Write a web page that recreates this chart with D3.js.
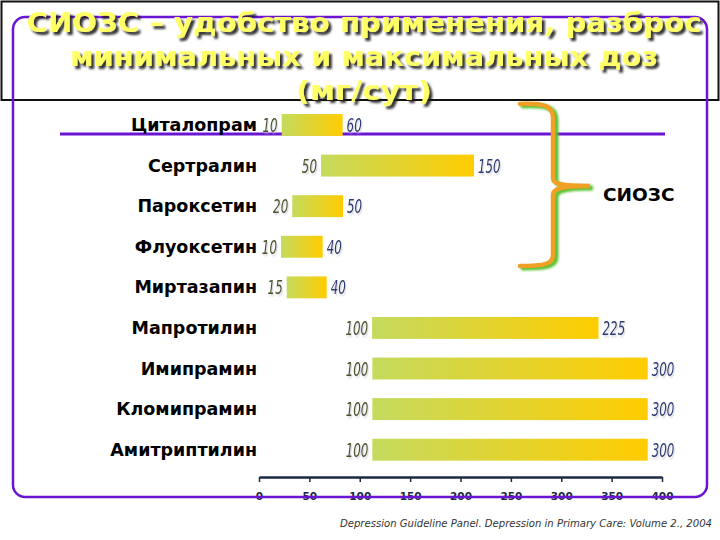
<!DOCTYPE html>
<html>
<head>
<meta charset="utf-8">
<script src="https://cdn.jsdelivr.net/npm/d3@7/dist/d3.min.js"></script>
<style>
  html, body { margin: 0; padding: 0; background: #ffffff; }
  svg { display: block; }
</style>
</head>
<body>
<svg id="chart" width="720" height="540"></svg>
<script>
// ---- data ----
const titleLines = ["СИОЗС – удобство применения, разброс", "минимальных и максимальных доз", "(мг/сут)"];
const categories = ["Циталопрам", "Сертралин", "Пароксетин", "Флуоксетин", "Миртазапин",
                    "Мапротилин", "Имипрамин", "Кломипрамин", "Амитриптилин"];
const minDose = [10, 50, 20, 10, 15, 100, 100, 100, 100];
const maxDose = [60, 150, 50, 40, 40, 225, 300, 300, 300];
// bar extents as drawn against the axis
const barStart = [22.5, 61.5, 33, 21.8, 27.5, 112.3, 112.5, 112.5, 112.5];
const barEnd   = [83, 213.4, 83.4, 63.2, 67.2, 337, 385.8, 385.8, 385.8];
const xTicks = [0, 50, 100, 150, 200, 250, 300, 350, 400];
const groupLabel = "СИОЗС";
const citation = "Depression Guideline Panel. Depression in Primary Care: Volume 2., 2004";

const svg = d3.select("#chart");
const defs = svg.append("defs");

const grad = defs.append("linearGradient").attr("id", "barGrad")
  .attr("x1", "0%").attr("x2", "100%").attr("y1", "0%").attr("y2", "0%");
grad.append("stop").attr("offset", "0%").attr("stop-color", "#c5da5e");
grad.append("stop").attr("offset", "100%").attr("stop-color", "#ffcc00");

const tshadow = defs.append("filter").attr("id", "titleShadow")
  .attr("x", "-10%").attr("y", "-30%").attr("width", "120%").attr("height", "160%");
tshadow.append("feDropShadow").attr("dx", 3).attr("dy", 3).attr("stdDeviation", 1.3)
  .attr("flood-color", "#1a1a1a").attr("flood-opacity", 0.9);

const lshadow = defs.append("filter").attr("id", "labShadow")
  .attr("x", "-20%").attr("y", "-20%").attr("width", "140%").attr("height", "140%");
lshadow.append("feDropShadow").attr("dx", 1.5).attr("dy", 1.5).attr("stdDeviation", 1)
  .attr("flood-color", "#b8b8c8").attr("flood-opacity", 0.6);

const bshadow = defs.append("filter").attr("id", "braceShadow")
  .attr("x", "-30%").attr("y", "-10%").attr("width", "160%").attr("height", "120%");
bshadow.append("feGaussianBlur").attr("stdDeviation", 0.8);

// ---- scales ----
const x = d3.scaleLinear().domain([0, 400]).range([259, 662]);
const y = d3.scaleBand().domain(categories).range([104.7, 470]).paddingInner(0.46).paddingOuter(0.23);

// ---- frames ----
svg.append("rect").attr("x", 1.5).attr("y", 1.5).attr("width", 717).attr("height", 98.5)
  .attr("fill", "none").attr("stroke", "#111").attr("stroke-width", 2);

svg.append("line").attr("x1", 60).attr("x2", 665).attr("y1", 134).attr("y2", 134)
  .attr("stroke", "#6a14d4").attr("stroke-width", 3);

// ---- bars ----
const rows = categories.map((c, i) => ({ c, i }));
svg.append("g").selectAll("rect").data(rows).join("rect")
  .attr("x", d => x(barStart[d.i]))
  .attr("width", d => x(barEnd[d.i]) - x(barStart[d.i]))
  .attr("y", d => y(d.c))
  .attr("height", y.bandwidth())
  .attr("fill", "url(#barGrad)");

// category labels
svg.append("g").selectAll("text").data(rows).join("text")
  .attr("x", 257)
  .attr("y", d => y(d.c) + y.bandwidth() / 2 + 6)
  .attr("text-anchor", "end")
  .attr("font-family", "'DejaVu Sans', Verdana, sans-serif")
  .attr("font-weight", "bold")
  .attr("font-size", 17.5)
  .attr("fill", "#000")
  .text(d => d.c);

// value labels (condensed italic digits)
const valFont = "'DejaVu Sans', sans-serif";
svg.append("g").selectAll("text").data(rows).join("text")
  .attr("transform", d => `translate(${x(barStart[d.i]) - 4},${y(d.c) + y.bandwidth() / 2 + 7}) scale(0.72,1.15)`)
  .attr("text-anchor", "end")
  .attr("font-family", valFont).attr("font-style", "italic")
  .attr("font-size", 16.5).attr("fill", "#4a5226")
  .attr("filter", "url(#labShadow)")
  .text(d => minDose[d.i]);

svg.append("g").selectAll("text").data(rows).join("text")
  .attr("transform", d => `translate(${x(barEnd[d.i]) + 4},${y(d.c) + y.bandwidth() / 2 + 7}) scale(0.72,1.15)`)
  .attr("text-anchor", "start")
  .attr("font-family", valFont).attr("font-style", "italic")
  .attr("font-size", 16.5).attr("fill", "#2c3a70")
  .attr("filter", "url(#labShadow)")
  .text(d => maxDose[d.i]);

// ---- axis ----
const axis = svg.append("g").attr("transform", "translate(0,477)")
  .call(d3.axisBottom(x).tickValues(xTicks).tickSize(5).tickSizeOuter(0).tickPadding(11));
axis.select(".domain").attr("stroke", "#1b2a44").attr("stroke-width", 2.5);
axis.selectAll(".tick line").attr("stroke", "#1b2a44").attr("stroke-width", 1.5);
axis.selectAll(".tick text")
  .attr("font-family", "'DejaVu Sans', Verdana, sans-serif")
  .attr("font-weight", "bold").attr("font-size", 10.5).attr("fill", "#1b2a44");

// ---- purple rounded frame (over axis labels) ----
svg.append("rect").attr("x", 13).attr("y", 17).attr("width", 694).attr("height", 480)
  .attr("rx", 12).attr("ry", 12)
  .attr("fill", "none").attr("stroke", "#6a14d4").attr("stroke-width", 2.5);

// ---- brace ----
const bracePath = "M520,104 C545,103 553,106 553,118 L553,178 C553,184 560,186 590,186 " +
                  "C560,186 553,189 553,195 L553,255 C553,264 545,266 520,266";
svg.append("path").attr("d", bracePath).attr("transform", "translate(3,2)")
  .attr("fill", "none").attr("stroke", "#5cc233").attr("stroke-width", 5)
  .attr("stroke-linecap", "round").attr("filter", "url(#braceShadow)");
svg.append("path").attr("d", bracePath)
  .attr("fill", "none").attr("stroke", "#f0a024").attr("stroke-width", 4.5)
  .attr("stroke-linecap", "round");

svg.append("text").attr("x", 603).attr("y", 201)
  .attr("font-family", "'DejaVu Sans', Verdana, sans-serif")
  .attr("font-weight", "bold").attr("font-size", 18.5).attr("fill", "#000")
  .text(groupLabel);

// ---- title ----
const titleBaselines = [32, 66, 100];
const titleWidths = [675, 588, 136];
svg.append("g").selectAll("text").data(titleLines).join("text")
  .attr("x", 364)
  .attr("y", (d, i) => titleBaselines[i])
  .attr("text-anchor", "middle")
  .attr("font-family", "'DejaVu Sans', Verdana, sans-serif")
  .attr("font-weight", "bold").attr("font-size", 27)
  .attr("textLength", (d, i) => titleWidths[i])
  .attr("lengthAdjust", "spacingAndGlyphs")
  .attr("fill", "#ffff66")
  .attr("filter", "url(#titleShadow)")
  .text(d => d);

// ---- citation ----
svg.append("text").attr("x", 712).attr("y", 527)
  .attr("text-anchor", "end")
  .attr("font-family", "'DejaVu Sans', Verdana, sans-serif")
  .attr("font-style", "italic").attr("font-size", 10).attr("fill", "#333")
  .attr("textLength", 372).attr("lengthAdjust", "spacingAndGlyphs")
  .text(citation);
</script>
</body>
</html>
